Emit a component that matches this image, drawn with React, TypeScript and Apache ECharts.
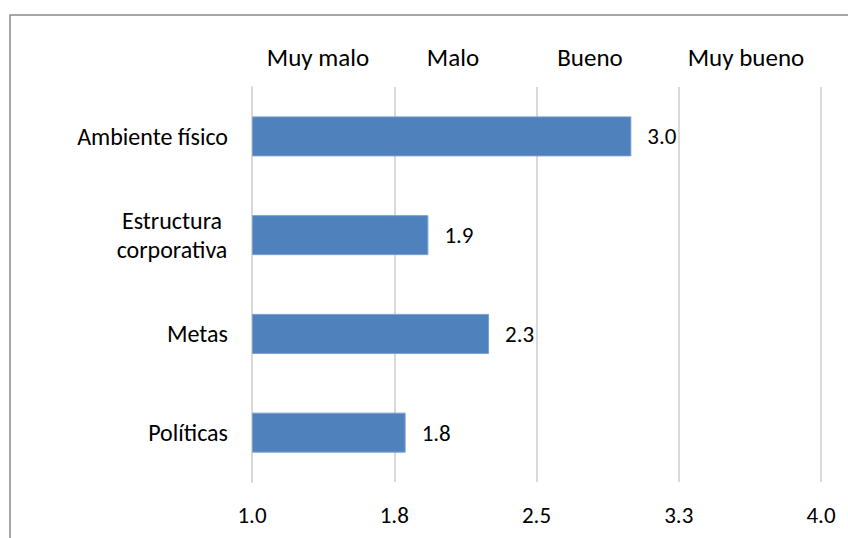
import React, { useEffect, useRef } from "react";
import * as echarts from "echarts";

const categories = ["Ambiente físico", "Estructura\ncorporativa", "Metas", "Políticas"];
const values = [3.0, 1.93, 2.25, 1.81];
const scaleLabels = ["Muy malo", "Malo", "Bueno", "Muy bueno"];
const axisMin = 1.0;
const axisMax = 4.0;
const axisStep = 0.75;

const FONT = "Carlito, Calibri, Lato, sans-serif";
const TEXT = "#000000";

export default function App() {
  const ref = useRef<HTMLDivElement>(null);
  useEffect(() => {
    if (!ref.current) return;
    const chart = echarts.init(ref.current, null, { renderer: "svg" });
    const labelCenters = [318, 453, 590, 746];
    chart.setOption({
      animation: false,
      backgroundColor: "#ffffff",
      grid: { left: 252, right: 27, top: 87, bottom: 56, containLabel: false },
      xAxis: {
        type: "value",
        min: 0,
        max: axisMax - axisMin,
        interval: axisStep,
        axisLine: { show: false },
        axisTick: { show: false },
        splitLine: { show: true, lineStyle: { color: "#d9d9d9", width: 2 } },
        axisLabel: {
          margin: 21,
          color: TEXT,
          fontFamily: FONT,
          fontSize: 23,
          formatter: (v: number) => (v + axisMin).toFixed(1),
        },
      },
      yAxis: {
        type: "category",
        inverse: true,
        data: categories,
        axisLine: { show: true, lineStyle: { color: "#d9d9d9", width: 2 } },
        axisTick: { show: false },
        axisLabel: {
          margin: 24,
          color: TEXT,
          fontFamily: FONT,
          fontSize: 24,
          lineHeight: 29,
          formatter: (v: string) =>
            v.includes("\n")
              ? v
                  .split("\n")
                  .map((s) => `{c|${s}}`)
                  .join("\n")
              : v,
          rich: {
            c: {
              width: 112,
              align: "center",
              fontFamily: FONT,
              fontSize: 24,
              lineHeight: 29,
              color: TEXT,
            },
          },
        },
      },
      series: [
        {
          type: "bar",
          barWidth: 40,
          data: values.map((v) => v - axisMin),
          itemStyle: { color: "#4f81bd", borderColor: "#7a9fd0", borderWidth: 1 },
          label: {
            show: true,
            position: "right",
            distance: 16,
            color: TEXT,
            fontFamily: FONT,
            fontSize: 23,
            formatter: (p: any) => (p.value + axisMin).toFixed(1),
          },
        },
      ],
      graphic: [
        {
          type: "rect",
          shape: { x: 10, y: 15, width: 900, height: 600 },
          style: { fill: "none", stroke: "#898989", lineWidth: 1.5 },
          silent: true,
        },
        ...scaleLabels.map((t, i) => ({
          type: "text",
          x: labelCenters[i],
          y: 57,
          style: {
            text: t,
            fill: TEXT,
            font: `25px ${FONT}`,
            align: "center",
            verticalAlign: "middle",
          },
        })),
      ],
    });
    return () => chart.dispose();
  }, []);
  return (
    <div
      ref={ref}
      style={{ position: "fixed", left: 0, top: 0, width: 848, height: 538 }}
    />
  );
}
